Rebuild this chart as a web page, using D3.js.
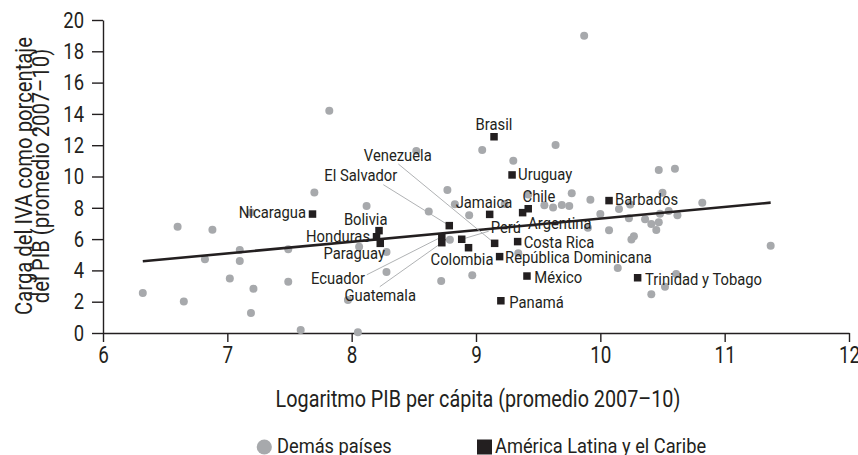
<!doctype html>
<html lang=es>
<head>
<meta charset="utf-8">
<title>IVA vs PIB</title>
<script src="https://cdn.jsdelivr.net/npm/d3@7"></script>
<style>
body { margin: 0; background: #fff; }
svg text { font-family: Roboto, "Noto Sans", sans-serif; fill: #231f20; }
</style>
</head>
<body>
<div id=chart></div>
<script>
// other countries (log GDP pc, VAT % GDP)
var otherX = [6.32, 6.60, 6.65, 6.82, 6.88, 7.02, 7.10, 7.10, 7.19, 7.21, 7.19, 7.49, 7.49, 7.59, 7.70, 7.82, 7.97, 8.05, 8.06, 8.12,
  8.28, 8.28, 8.52, 8.62, 8.77, 8.83, 8.945, 8.79, 8.72, 8.97, 9.05, 9.23, 9.30, 9.42, 9.55, 9.62, 9.64, 9.69, 9.75, 9.77,
  9.87, 9.90, 9.92, 10.00, 10.07, 10.14, 10.15, 10.23, 10.24, 10.25, 10.27, 10.36, 10.41, 10.41, 10.45, 10.47, 10.47, 10.48, 10.50, 10.52,
  10.55, 10.60, 10.61, 10.62, 10.82, 11.37, 9.34]
var otherY = [2.56, 6.79, 2.02, 4.71, 6.60, 3.49, 5.30, 4.60, 1.28, 2.83, 7.70, 5.35, 3.28, 0.19, 8.97, 14.2, 2.11, 0.04, 5.51, 8.12,
  5.17, 3.90, 11.63, 7.77, 9.14, 8.22, 7.52, 5.96, 3.32, 3.69, 11.69, 8.25, 11.01, 8.85, 8.16, 8.02, 12.01, 8.18, 8.11, 8.93,
  19.0, 6.72, 8.51, 7.60, 6.56, 4.15, 7.93, 7.34, 8.21, 5.98, 6.18, 7.27, 6.97, 2.47, 6.58, 7.07, 10.41, 7.62, 8.96, 2.96,
  7.80, 10.49, 3.77, 7.52, 8.33, 5.58, 5.10]

// Latin America and the Caribbean
var lacNames = ["Nicaragua", "Bolivia", "Honduras", "Paraguay", "Ecuador", "Guatemala", "El Salvador", "Venezuela", "Colombia", "Perú",
  "Jamaica", "Brasil", "Uruguay", "Chile", "Argentina", "Costa Rica", "República Dominicana", "México", "Panamá", "Barbados", "Trinidad y Tobago"]
var lacX = [7.685, 8.22, 8.20, 8.23, 8.725, 8.725, 8.785, 9.15, 8.94, 8.885,
  9.11, 9.145, 9.29, 9.42, 9.375, 9.335, 9.19, 9.41, 9.20, 10.07, 10.30]
var lacY = [7.60, 6.54, 6.15, 5.73, 6.15, 5.77, 6.86, 5.73, 5.45, 5.99,
  7.58, 12.54, 10.10, 7.94, 7.69, 5.84, 4.88, 3.64, 2.06, 8.46, 3.53]

// fitted line
var trendX = [6.32, 11.37]
var trendY = [4.58, 8.33]

var xTicks = [6, 7, 8, 9, 10, 11, 12]
var yTicks = [0, 2, 4, 6, 8, 10, 12, 14, 16, 18, 20]

// label placement relative to the square (px); lx,ly = start of leader line
var labelPos = {
  "Nicaragua": {dx: -6.5, dy: 4.3, a: "end"},
  "Bolivia": {dx: 8.5, dy: -5.6, a: "end"},
  "Honduras": {dx: -6.5, dy: 5.5, a: "end"},
  "Paraguay": {dx: 4.7, dy: 15.7, a: "end"},
  "Ecuador": {dx: -76.8, dy: 47.5, a: "end", lx: -75, ly: 38},
  "Guatemala": {dx: -25.8, dy: 58.3, a: "end", lx: -62, ly: 44},
  "El Salvador": {dx: -52, dy: -44.6, a: "end", lx: -66, ly: -41},
  "Venezuela": {dx: -62.9, dy: -82.3, a: "end", lx: -96.3, ly: -79.3},
  "Colombia": {dx: -6.5, dy: 17.3, a: "middle"},
  "Perú": {dx: 29, dy: -6, a: "start", lx: 27, ly: -8},
  "Jamaica": {dx: -34, dy: -6.4, a: "start"},
  "Brasil": {dx: 0, dy: -7, a: "middle"},
  "Uruguay": {dx: 6, dy: 5.5, a: "start"},
  "Chile": {dx: -5.7, dy: -7, a: "start"},
  "Argentina": {dx: 5.5, dy: 16, a: "start"},
  "Costa Rica": {dx: 6, dy: 6, a: "start"},
  "República Dominicana": {dx: 5.5, dy: 6.7, a: "start"},
  "México": {dx: 7.4, dy: 7.3, a: "start"},
  "Panamá": {dx: 8.4, dy: 7, a: "start"},
  "Barbados": {dx: 6, dy: 4.4, a: "start"},
  "Trinidad y Tobago": {dx: 7.4, dy: 7.2, a: "start"}
}

var W = 858, H = 455
//        t, r, b, l
var m = [20, 9, 122, 103],
  w = W - m[1] - m[3],
  h = H - m[0] - m[2]

var ink = "#231f20", grey = "#a7a9ac"

// no condensed face installed, so narrow the glyphs by hand
function squeeze(sel, k) {
  sel.each(function() {
    var t = d3.select(this)
    var x0 = +t.attr("x") || 0
    t.attr("x", x0 / k).attr("transform", (t.attr("transform") || "") + " scale(" + k + ",1)")
  })
}

var svg = d3.select("#chart").append("svg")
  .attr("width", W)
  .attr("height", H)

var plt = svg.append("g")
  .attr("transform", "translate(" + m[3] + "," + m[0] + ")")

var x = d3.scaleLinear().domain([6, 12]).range([0, w])
var y = d3.scaleLinear().domain([0, 20]).range([h, 0])

var yaxis = d3.axisLeft(y).tickValues(yTicks).tickFormat(d3.format("d"))
  .tickSize(11).tickSizeOuter(0).tickPadding(8)
var gy = plt.append("g").call(yaxis)
var xaxis = d3.axisBottom(x).tickValues(xTicks).tickFormat(d3.format("d"))
  .tickSize(9).tickSizeOuter(0).tickPadding(5)
var gx = plt.append("g").attr("transform", "translate(0," + h + ")").call(xaxis)

plt.selectAll(".domain, .tick line").attr("stroke", ink).attr("stroke-width", 1.4)
gy.selectAll(".tick text").attr("font-size", 22.5).attr("fill", ink).attr("font-family", null)
gx.selectAll(".tick text").attr("font-size", 23).attr("fill", ink).attr("font-family", null)
squeeze(plt.selectAll(".tick text"), 0.82)

// grey dots
plt.append("g").selectAll("circle")
  .data(otherX.map((v, i) => [v, otherY[i]]))
  .join("circle")
  .attr("cx", d => x(d[0]))
  .attr("cy", d => y(d[1]))
  .attr("r", 4)
  .attr("fill", grey)

// trend
var line = d3.line().x(d => x(d[0])).y(d => y(d[1]))
plt.append("path")
  .datum(trendX.map((v, i) => [v, trendY[i]]))
  .attr("d", line)
  .attr("stroke", ink)
  .attr("stroke-width", 2.6)
  .attr("fill", "none")

var lac = lacNames.map((n, i) => ({name: n, x: lacX[i], y: lacY[i]}))

// leader lines
plt.append("g").selectAll("line")
  .data(lac.filter(d => labelPos[d.name].lx !== undefined))
  .join("line")
  .attr("x1", d => x(d.x) + labelPos[d.name].lx)
  .attr("y1", d => y(d.y) + labelPos[d.name].ly)
  .attr("x2", d => x(d.x))
  .attr("y2", d => y(d.y))
  .attr("stroke", grey)
  .attr("stroke-width", 0.9)

// squares
var sq = 7.5
plt.append("g").selectAll("rect")
  .data(lac)
  .join("rect")
  .attr("x", d => x(d.x) - sq / 2)
  .attr("y", d => y(d.y) - sq / 2)
  .attr("width", sq)
  .attr("height", sq)
  .attr("fill", ink)

var labs = plt.append("g").selectAll("text")
  .data(lac)
  .join("text")
  .attr("x", d => x(d.x) + labelPos[d.name].dx)
  .attr("y", d => y(d.y) + labelPos[d.name].dy)
  .attr("text-anchor", d => labelPos[d.name].a)
  .attr("font-size", 17)
  .text(d => d.name)
squeeze(labs, 0.87)

// axis titles
var xt = svg.append("text")
  .attr("x", 478)
  .attr("y", 407)
  .attr("text-anchor", "middle")
  .attr("font-size", 23)
  .text("Logaritmo PIB per cápita (promedio 2007–10)")
squeeze(xt, 0.86)

var yt = svg.append("text")
  .attr("transform", "translate(0,176) rotate(-90) scale(0.88,1)")
  .attr("text-anchor", "middle")
  .attr("font-size", 23)
yt.append("tspan").attr("x", 0).attr("y", 32).text("Carga del IVA como porcentaje")
yt.append("tspan").attr("x", 0).attr("y", 49.5).text("del PIB (promedio 2007–10)")

// legend
var lg = svg.append("g")
lg.append("circle").attr("cx", 264.3).attr("cy", 447).attr("r", 7.6).attr("fill", grey)
lg.append("rect").attr("x", 477).attr("y", 439.5).attr("width", 15).attr("height", 15).attr("fill", ink)
var lt = lg.selectAll("text")
  .data([[277, "Demás países"], [495, "América Latina y el Caribe"]])
  .join("text")
  .attr("x", d => d[0])
  .attr("y", 453.5)
  .attr("font-size", 21)
  .text(d => d[1])
squeeze(lt, 0.87)
</script>
</body>
</html>
